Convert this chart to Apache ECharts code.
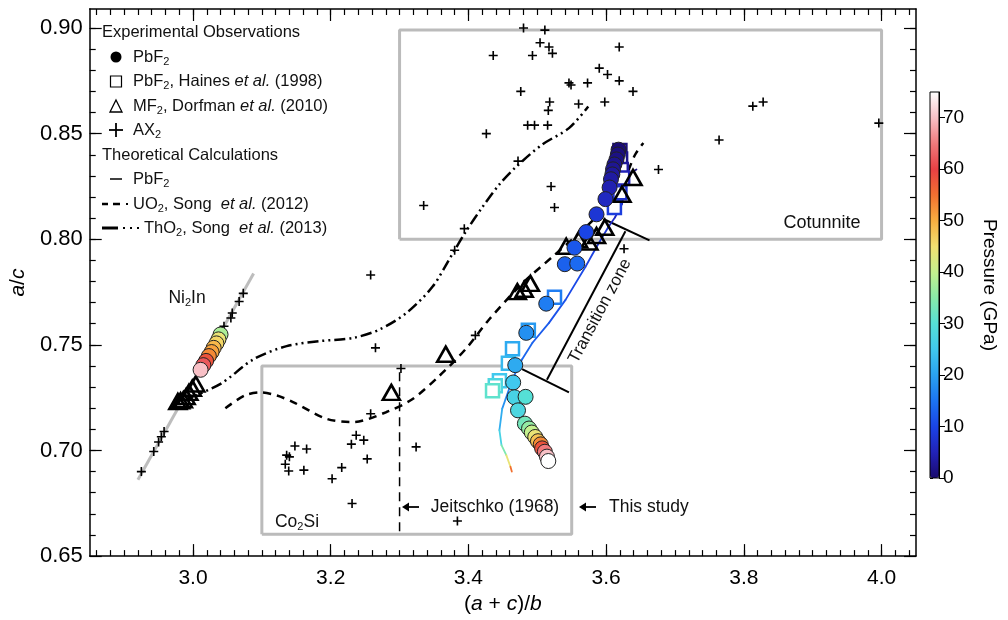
<!DOCTYPE html>
<html>
<head>
<meta charset="utf-8">
<script src="https://cdn.jsdelivr.net/npm/echarts@6/dist/echarts.min.js"></script>
<style>
html, body { margin: 0; background: #fff; }
#chart { width: 1008px; height: 620px; }
</style>
</head>
<body>
<div id="chart"></div>
<script>
// 刻度
const xMajor = [3.0, 3.2, 3.4, 3.6, 3.8, 4.0]
const yMajor = [0.65, 0.70, 0.75, 0.80, 0.85, 0.90]
const pressureTicks = [0, 10, 20, 30, 40, 50, 60, 70]
const steps = (a, b, d) => {
	const out = []
	for (let v = a; v <= b + 1e-9; v += d) out.push(Math.round(v * 1000) / 1000)
	return out
}
const xMinor = steps(2.86, 4.04, 0.02)
const yMinor = steps(0.66, 0.90, 0.01)
const pMinor = steps(0, 74, 2)

// PbF2 this study: [x, y, pressure]
const pbf2Obs = [
	[3.618, 0.8424, 0.5], [3.617, 0.8401, 1], [3.615, 0.8378, 1.5], [3.612, 0.8354, 2],
	[3.610, 0.8331, 2.5], [3.609, 0.8307, 3], [3.607, 0.8284, 3.5], [3.605, 0.8245, 4.5],
	[3.599, 0.8190, 6], [3.586, 0.8118, 8], [3.571, 0.8034, 10], [3.554, 0.7960, 12],
	[3.540, 0.7882, 13], [3.558, 0.7885, 14], [3.513, 0.7695, 16], [3.484, 0.7557, 18],
	[3.468, 0.7404, 21], [3.465, 0.7322, 25], [3.467, 0.7252, 27], [3.483, 0.7254, 30],
	[3.472, 0.7190, 28], [3.482, 0.7127, 33], [3.488, 0.7104, 36], [3.492, 0.7085, 40],
	[3.497, 0.7064, 44], [3.501, 0.7044, 48], [3.505, 0.7029, 53], [3.507, 0.7010, 58],
	[3.511, 0.6994, 65], [3.514, 0.6971, 70], [3.516, 0.6950, 75],
	[3.040, 0.7549, 38], [3.037, 0.7526, 44], [3.034, 0.7507, 46], [3.030, 0.7486, 49],
	[3.027, 0.7466, 51], [3.023, 0.7447, 53], [3.019, 0.7424, 58], [3.015, 0.7404, 62],
	[3.011, 0.7382, 70]
]
// PbF2, Haines et al. (1998): [x, y, pressure]
const hainesPbF2 = [
	[3.620, 0.842, 1], [3.621, 0.838, 2], [3.622, 0.833, 3], [3.624, 0.829, 5],
	[3.620, 0.822, 7], [3.612, 0.815, 9],
	[3.525, 0.7726, 16], [3.487, 0.7569, 19], [3.464, 0.7482, 21], [3.458, 0.7413, 23],
	[3.445, 0.7330, 25], [3.439, 0.7307, 28], [3.435, 0.7283, 31]
]
// MF2, Dorfman et al. (2010)
const dorfmanMF2 = [
	[2.978, 0.7232], [2.982, 0.7235], [2.986, 0.7240], [2.990, 0.7255], [2.994, 0.7275],
	[2.999, 0.7295], [3.004, 0.7315],
	[3.288, 0.7275], [3.367, 0.7456], [3.471, 0.7752], [3.481, 0.7763], [3.490, 0.7791],
	[3.542, 0.7967], [3.560, 0.7998], [3.575, 0.7987], [3.586, 0.8018], [3.598, 0.8057],
	[3.623, 0.8213], [3.639, 0.8292]
]
// AX2
const ax2 = [
	[3.480, 0.900], [3.511, 0.899], [3.504, 0.893], [3.517, 0.891], [3.436, 0.887], [3.493, 0.887],
	[3.522, 0.888], [3.619, 0.891], [3.590, 0.881], [3.602, 0.878], [3.619, 0.875], [3.546, 0.874],
	[3.549, 0.873], [3.573, 0.874], [3.639, 0.870], [3.476, 0.870], [3.518, 0.865], [3.516, 0.861],
	[3.560, 0.864], [3.598, 0.865], [3.828, 0.865], [3.813, 0.863], [3.486, 0.854], [3.496, 0.854],
	[3.515, 0.854], [3.426, 0.850], [3.996, 0.855], [3.764, 0.847], [3.472, 0.837], [3.676, 0.833],
	[3.520, 0.825], [3.525, 0.815], [3.335, 0.816], [3.394, 0.805], [3.380, 0.7948], [3.626, 0.7955],
	[3.258, 0.7831], [3.410, 0.7545], [3.265, 0.7486], [3.302, 0.7388], [3.258, 0.7174], [3.237, 0.7072],
	[3.248, 0.7049], [3.230, 0.7030], [3.253, 0.6960], [3.324, 0.7017], [3.216, 0.6919], [3.202, 0.6866],
	[3.148, 0.7021], [3.165, 0.7007], [3.136, 0.6978], [3.140, 0.6970], [3.134, 0.6935], [3.139, 0.6903],
	[3.161, 0.6907], [3.231, 0.6749], [3.384, 0.6666],
	[3.073, 0.7744], [3.067, 0.7705], [3.057, 0.7651], [3.055, 0.7627], [3.045, 0.7588],
	[2.958, 0.7090], [2.954, 0.7065], [2.950, 0.7040], [2.943, 0.6995], [2.925, 0.6900]
]
// theory PbF2: [x, y, pressure]
const theoryPbF2 = [
	[3.644, 0.8330, 1], [3.632, 0.8307, 2], [3.628, 0.8245, 3], [3.623, 0.8167, 5], [3.613, 0.8104, 6],
	[3.603, 0.8057, 7], [3.586, 0.7963, 9], [3.570, 0.7870, 10], [3.541, 0.7713, 11], [3.517, 0.7604, 12],
	[3.493, 0.7510, 13], [3.478, 0.7432, 14], [3.464, 0.7338, 15], [3.454, 0.7244, 17], [3.449, 0.7197, 19],
	[3.445, 0.7096, 24], [3.448, 0.7025, 30], [3.455, 0.6978, 38], [3.461, 0.6923, 50], [3.463, 0.6900, 60]
]
// UO2, Song et al. (2012)
const uo2Song = [
	[3.047, 0.7200], [3.075, 0.7260], [3.098, 0.7275], [3.122, 0.7260], [3.146, 0.7228], [3.194, 0.7150],
	[3.233, 0.7135], [3.281, 0.7182], [3.319, 0.7244], [3.358, 0.7354], [3.396, 0.7480], [3.430, 0.7620],
	[3.478, 0.7790], [3.522, 0.7917], [3.560, 0.8026], [3.594, 0.8135], [3.623, 0.8260], [3.642, 0.8400],
	[3.654, 0.8456]
]
// ThO2, Song et al. (2013)
const tho2Song = [
	[2.991, 0.7244], [3.040, 0.7315], [3.088, 0.7432], [3.136, 0.7494], [3.185, 0.7518], [3.233, 0.7533],
	[3.271, 0.7573], [3.310, 0.7651], [3.348, 0.7776], [3.377, 0.7932], [3.396, 0.8035], [3.420, 0.8151],
	[3.445, 0.8260], [3.468, 0.8339], [3.507, 0.8448], [3.546, 0.8526], [3.574, 0.8628]
]
const jeitschkoLine = [[3.30, 0.737], [3.30, 0.6603]]
const ni2inLine = [[2.920, 0.6861], [3.088, 0.7838]]
const cotunniteBox = [[3.30, 0.80], [4.00, 0.80], [4.00, 0.899], [3.30, 0.899], [3.30, 0.80]]
const co2siBox = [[3.10, 0.6603], [3.55, 0.6603], [3.55, 0.74], [3.10, 0.74], [3.10, 0.6603]]
const transitionZone = [
	[[3.596, 0.8096], [3.663, 0.7995]],
	[[3.514, 0.7335], [3.628, 0.8038]],
	[[3.478, 0.7385], [3.546, 0.7275]]
]

// 压力色标
const pressureColors = ['#1a0a6e', '#2222b8', '#1a44e6', '#1c74f2', '#2aa2f0', '#40c8ee', '#55e0d6', '#88eaa8',
	'#c4f08e', '#f2e070', '#f8ae40', '#f27030', '#e84044', '#f07a7c', '#f8c0c6', '#ffffff']
const pColor = (p) => {
	const t = Math.max(0, Math.min(75, p)) / 5
	const i = Math.min(Math.floor(t), pressureColors.length - 2)
	const f = t - i
	const a = pressureColors[i], b = pressureColors[i + 1]
	const c = [1, 3, 5].map(k => Math.round(parseInt(a.substr(k, 2), 16) * (1 - f) + parseInt(b.substr(k, 2), 16) * f))
	return 'rgb(' + c.join(',') + ')'
}

const FONT = 'Liberation Sans, Arial, sans-serif'
const LEG = 16.5
const sub = { fontSize: 11, fontFamily: FONT, padding: [9, 0, 0, 0] }
const ital = { fontSize: LEG, fontFamily: FONT, fontStyle: 'italic' }

const tickAxis = (grid, pos, min, max, vals, len, label) => ({
	gridIndex: grid, type: 'value', min: min, max: max, position: pos,
	axisLine: { show: !!label, onZero: false, lineStyle: { color: '#000', width: 1.5 } },
	axisTick: { show: true, inside: true, length: len, customValues: vals, lineStyle: { color: '#000', width: 1.2 } },
	axisLabel: label ? Object.assign({ customValues: vals, color: '#000', fontFamily: FONT }, label) : { show: false },
	splitLine: { show: false }
})

const machart = echarts.init(document.getElementById('chart'))

const xAxes = [
	Object.assign(tickAxis(0, 'bottom', 2.85, 4.05, xMajor, 12, { fontSize: 21, margin: 12, formatter: v => v.toFixed(1) }), {
		name: '({i|a} + {i|c})/{i|b}', nameLocation: 'middle', nameGap: 31,
		nameTextStyle: { fontSize: 21, color: '#000', fontFamily: FONT, rich: { i: { fontSize: 21, fontStyle: 'italic', fontFamily: FONT } } }
	}),
	tickAxis(0, 'bottom', 2.85, 4.05, xMinor, 6),
	Object.assign(tickAxis(0, 'top', 2.85, 4.05, xMajor, 12), { axisLine: { show: true, onZero: false, lineStyle: { color: '#000', width: 1.5 } } }),
	tickAxis(0, 'top', 2.85, 4.05, xMinor, 6),
	{ gridIndex: 1, type: 'value', min: 0, max: 1, show: false }
]
const yAxes = [
	Object.assign(tickAxis(0, 'left', 0.65, 0.909, yMajor, 12, { fontSize: 22, margin: 7, formatter: v => v.toFixed(2) }), {
		name: '{i|a}/{i|c}', nameLocation: 'middle', nameGap: 54,
		nameTextStyle: { fontSize: 21, color: '#000', fontFamily: FONT, rich: { i: { fontSize: 21, fontStyle: 'italic', fontFamily: FONT } } }
	}),
	tickAxis(0, 'left', 0.65, 0.909, yMinor, 6),
	Object.assign(tickAxis(0, 'right', 0.65, 0.909, yMajor, 12), { axisLine: { show: true, onZero: false, lineStyle: { color: '#000', width: 1.5 } } }),
	tickAxis(0, 'right', 0.65, 0.909, yMinor, 6),
	{
		gridIndex: 1, type: 'value', min: 0, max: 75, position: 'right',
		axisLine: { show: true, onZero: false, lineStyle: { color: '#000', width: 1 } },
		axisTick: { show: true, inside: false, length: 6, customValues: pressureTicks, lineStyle: { color: '#000' } },
		axisLabel: { customValues: pressureTicks, fontSize: 19, color: '#000', margin: 4, fontFamily: FONT },
		splitLine: { show: false },
		name: 'Pressure (GPa)', nameLocation: 'middle', nameRotate: -90, nameGap: 41,
		nameTextStyle: { fontSize: 19, color: '#000', fontFamily: FONT }
	},
	{
		gridIndex: 1, type: 'value', min: 0, max: 75, position: 'right',
		axisLine: { show: false }, axisLabel: { show: false }, splitLine: { show: false },
		axisTick: { show: true, inside: false, length: 3, customValues: pMinor, lineStyle: { color: '#000' } }
	}
]

const lineSeries = (data, style, extra) => Object.assign({
	type: 'line', data: data, showSymbol: false, symbol: 'none', silent: true,
	lineStyle: style, z: 2
}, extra || {})

const series = [
	lineSeries(cotunniteBox, { color: '#bbbbbb', width: 3 }),
	lineSeries(co2siBox, { color: '#bbbbbb', width: 3 }),
	lineSeries(ni2inLine, { color: '#bdbdbd', width: 3 }),
	lineSeries(tho2Song, { color: '#000', width: 2.5, type: [11, 4, 2, 4, 2, 4] }, { smooth: 0.3 }),
	lineSeries(uo2Song, { color: '#000', width: 2.5, type: [8, 6] }, { smooth: 0.3 }),
	lineSeries(jeitschkoLine, { color: '#000', width: 1.5, type: [9, 6] }),
	{
		type: 'lines', coordinateSystem: 'cartesian2d', silent: true, z: 3,
		data: transitionZone.map(c => ({ coords: c })),
		lineStyle: { color: '#000', width: 2, opacity: 1 }
	},
	{
		type: 'lines', coordinateSystem: 'cartesian2d', silent: true, z: 3,
		data: theoryPbF2.slice(0, -1).map((a, i) => {
			const b = theoryPbF2[i + 1]
			return { coords: [[a[0], a[1]], [b[0], b[1]]], lineStyle: { color: pColor((a[2] + b[2]) / 2) } }
		}),
		lineStyle: { width: 1.8, opacity: 1, cap: 'round' }
	},
	{
		type: 'scatter', symbol: 'rect', symbolSize: 13, silent: true, z: 4,
		data: hainesPbF2.map(d => ({ value: [d[0], d[1]], itemStyle: { borderColor: pColor(d[2]) } })),
		itemStyle: { color: '#fff', borderWidth: 2.5, opacity: 1 }
	},
	{
		type: 'scatter', symbol: 'triangle', symbolSize: [17, 15], silent: true, z: 5,
		data: dorfmanMF2,
		itemStyle: { color: 'rgba(0,0,0,0)', borderColor: '#000', borderWidth: 2.6, opacity: 1 }
	},
	{
		type: 'scatter', symbol: 'path://M4.1,0H5.9V4.1H10V5.9H5.9V10H4.1V5.9H0V4.1H4.1Z', symbolSize: 9, silent: true, z: 5,
		data: ax2,
		itemStyle: { color: '#000', opacity: 1 }
	},
	{
		type: 'scatter', symbol: 'circle', symbolSize: 15, silent: true, z: 6,
		data: pbf2Obs,
		itemStyle: { borderColor: '#222', borderWidth: 1, opacity: 1 }
	}
]

// 图例和标注
const txt = (x, y, text, extra) => ({
	type: 'text', x: x, y: y, silent: true,
	style: Object.assign({
		text: text, fontSize: LEG, fontFamily: FONT, fill: '#111', verticalAlign: 'middle',
		rich: { s: sub, i: ital }
	}, extra || {})
})
const seg = (x1, y1, x2, y2, w) => ({
	type: 'line', silent: true, shape: { x1: x1, y1: y1, x2: x2, y2: y2 },
	style: { stroke: '#000', lineWidth: w }
})
const arrow = (x, y) => [
	seg(x + 3, y, x + 17, y, 1.8),
	{ type: 'polygon', silent: true, shape: { points: [[x, y], [x + 7, y - 4.5], [x + 7, y + 4.5]] }, style: { fill: '#000' } }
]

const graphics = [
	txt(102, 32, 'Experimental Observations'),
	{ type: 'circle', silent: true, shape: { cx: 116, cy: 57, r: 5.5 }, style: { fill: '#000' } },
	txt(133, 57, 'PbF{s|2}'),
	{ type: 'rect', silent: true, shape: { x: 110.5, y: 76, width: 11, height: 11 }, style: { fill: 'none', stroke: '#000', lineWidth: 1.2 } },
	txt(133, 81, 'PbF{s|2}, Haines {i|et al.} (1998)'),
	{ type: 'polygon', silent: true, shape: { points: [[116, 100], [122, 112], [110, 112]] }, style: { fill: 'none', stroke: '#000', lineWidth: 1.3 } },
	txt(133, 106, 'MF{s|2}, Dorfman {i|et al.} (2010)'),
	seg(109, 130, 123, 130, 1.8), seg(116, 123, 116, 137, 1.8),
	txt(133, 130, 'AX{s|2}'),
	txt(102, 155, 'Theoretical Calculations'),
	seg(110, 179, 122, 179, 1.5),
	txt(133, 179, 'PbF{s|2}'),
	seg(102, 204, 108, 204, 2.5), seg(113, 204, 120, 204, 2.5), seg(126, 204, 128, 204, 2),
	txt(133, 204, 'UO{s|2}, Song  {i|et al.} (2012)'),
	seg(102, 228, 118, 228, 3), seg(123, 228, 125, 228, 2), seg(130, 228, 132, 228, 2), seg(137, 228, 139, 228, 2),
	txt(144, 228, 'ThO{s|2}, Song  {i|et al.} (2013)'),
	txt(822, 223, 'Cotunnite', { align: 'center', fontSize: 18 }),
	txt(187, 298, 'Ni{s|2}In', { align: 'center', fontSize: 17.5 }),
	txt(297, 522, 'Co{s|2}Si', { align: 'center', fontSize: 17.5 }),
	...arrow(402, 507),
	txt(495, 507, 'Jeitschko (1968)', { align: 'center', fontSize: 17.5 }),
	...arrow(579, 507),
	txt(609, 507, 'This study', { fontSize: 17.5 }),
	Object.assign(txt(600, 311, 'Transition zone', { align: 'center', fontSize: 17 }), { rotation: 62 * Math.PI / 180 })
]

const option = {
	animation: false,
	backgroundColor: '#fff',
	grid: [
		{ left: 85, top: 9, width: 831, height: 553 },
		{ left: 930, top: 92, width: 9, height: 386, show: true, borderColor: '#000', borderWidth: 1, backgroundColor: 'transparent', z: 10 }
	],
	xAxis: xAxes,
	yAxis: yAxes.map((a, i) => Object.assign(a, { gridIndex: i < 4 ? 0 : 1 })),
	visualMap: {
		type: 'continuous', min: 0, max: 75, dimension: 2, seriesIndex: series.length - 1,
		inRange: { color: pressureColors },
		left: 930, top: 92, itemWidth: 9, itemHeight: 386, padding: 0,
		calculable: false, hoverLink: false, text: null, z: 1
	},
	series: series,
	graphic: graphics
}
machart.setOption(option)
</script>
</body>
</html>
